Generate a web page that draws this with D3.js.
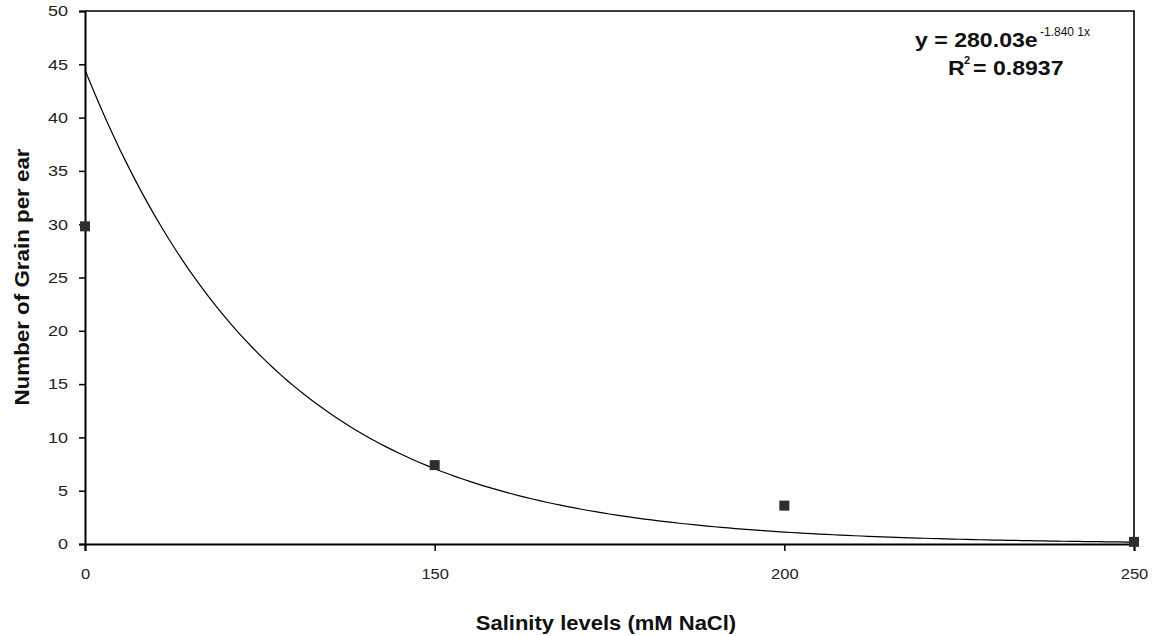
<!DOCTYPE html>
<html>
<head>
<meta charset="utf-8">
<script src="https://cdn.jsdelivr.net/npm/d3@7"></script>
<style>
  html, body { margin: 0; padding: 0; background: #fff; }
  svg { display: block; font-family: "Liberation Sans", Arial, sans-serif; }
</style>
</head>
<body>
<svg id="chart" width="1157" height="636"></svg>
<script>
// ---- data ----
const categories = ["0", "150", "200", "250"];
const grainValues = [29.8, 7.4, 3.6, 0.2];
const yTicks = [0, 5, 10, 15, 20, 25, 30, 35, 40, 45, 50];
const trendCoefA = 280.03;
const trendCoefB = -1.8401;
const xTitle = "Salinity levels (mM NaCl)";
const yTitle = "Number of Grain per ear";

(function () {
// ---- layout ----
const pLeft = 85, pRight = 1134, pTop = 11, pBottom = 544;
const svg = d3.select("#chart");

const idx = categories.map((c, i) => i + 1);
const x = d3.scaleLinear().domain([1, categories.length]).range([pLeft, pRight]);
const y = d3.scaleLinear().domain([0, 50]).range([pBottom, pTop]);

function stretch(sel, k) {
  sel.each(function () {
    const w = this.getComputedTextLength();
    d3.select(this).attr("textLength", w * k).attr("lengthAdjust", "spacingAndGlyphs");
  });
}

// plot border (top & right)
svg.append("path")
  .attr("d", `M${pLeft},${pTop}H${pRight}V${pBottom}`)
  .attr("fill", "none").attr("stroke", "#000").attr("stroke-width", 1.6);

// y axis
const yAxis = svg.append("g")
  .attr("transform", `translate(${pLeft},0)`)
  .call(d3.axisLeft(y).tickValues(yTicks).tickSize(6).tickPadding(11));
yAxis.select(".domain").attr("stroke", "#000").attr("stroke-width", 2);
yAxis.selectAll(".tick line").attr("stroke", "#000").attr("stroke-width", 1.5);
yAxis.selectAll(".tick text")
  .attr("font-size", 15).attr("fill", "#222")
  .attr("font-family", "Liberation Sans, Arial, sans-serif")
  .call(stretch, 1.2);

// x axis
const xAxis = svg.append("g")
  .attr("transform", `translate(0,${pBottom})`)
  .call(d3.axisBottom(x).tickValues(idx).tickFormat((d) => categories[d - 1]).tickSize(7).tickPadding(17));
xAxis.select(".domain").attr("stroke", "#000").attr("stroke-width", 2);
xAxis.selectAll(".tick line").attr("stroke", "#000").attr("stroke-width", 1.5);
xAxis.selectAll(".tick text")
  .attr("font-size", 15).attr("fill", "#222")
  .attr("font-family", "Liberation Sans, Arial, sans-serif")
  .call(stretch, 1.1);

// trendline (exponential fit shown on chart)
const tVals = d3.range(1, categories.length + 0.001, 0.02);
const line = d3.line().x((t) => x(t)).y((t) => y(trendCoefA * Math.exp(trendCoefB * t)));
svg.append("path")
  .datum(tVals)
  .attr("d", line)
  .attr("fill", "none").attr("stroke", "#000").attr("stroke-width", 1.2);

// markers
const ms = 10;
svg.append("g").selectAll("rect")
  .data(grainValues)
  .join("rect")
  .attr("x", (d, i) => x(i + 1) - ms / 2)
  .attr("y", (d) => y(d) - ms / 2)
  .attr("width", ms).attr("height", ms)
  .attr("fill", "#2e2e2e");

// axis titles
svg.append("text")
  .attr("x", 606).attr("y", 630)
  .attr("text-anchor", "middle")
  .attr("font-size", 20).attr("font-weight", "bold").attr("fill", "#111")
  .text(xTitle)
  .call(stretch, 1.1);

svg.append("text")
  .attr("transform", "translate(29,277) rotate(-90)")
  .attr("text-anchor", "middle")
  .attr("font-size", 20.5).attr("font-weight", "bold").attr("fill", "#111")
  .text(yTitle)
  .call(stretch, 1.09);

// equation
const eq = svg.append("g").attr("font-weight", "bold").attr("fill", "#111");
eq.append("text")
  .attr("x", 915).attr("y", 47)
  .attr("font-size", 21)
  .text("y = 280.03e")
  .call(stretch, 1.1);
eq.append("text")
  .attr("x", 1040).attr("y", 36)
  .attr("font-size", 12).attr("font-weight", "normal")
  .text("-1.840 1x");
eq.append("text")
  .attr("x", 948).attr("y", 75)
  .attr("font-size", 21)
  .text("R")
  .call(stretch, 1.1);
eq.append("text")
  .attr("x", 964).attr("y", 64)
  .attr("font-size", 11)
  .text("2");
eq.append("text")
  .attr("x", 973).attr("y", 75)
  .attr("font-size", 21)
  .text("= 0.8937")
  .call(stretch, 1.1);
})();
</script>
</body>
</html>
